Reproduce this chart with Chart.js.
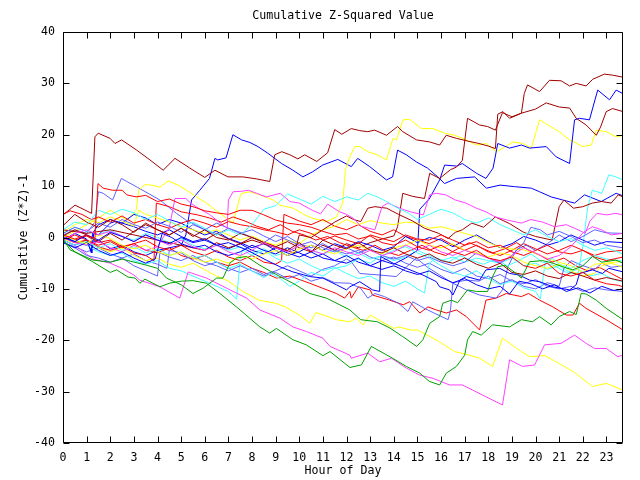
<!DOCTYPE html>
<html><head><meta charset="utf-8">
<script src="https://cdn.jsdelivr.net/npm/chart.js@4/dist/chart.umd.min.js"></script>
<style>html,body{margin:0;padding:0;background:#fff;}canvas{display:block;}</style>
</head><body>
<canvas id="c" width="640" height="480"></canvas>
<script>
// ---- labels / ticks ----
const chartTitle = 'Cumulative Z-Squared Value';
const xTitle = 'Hour of Day';
const yTitle = 'Cumulative (Z*Z)-1';
const xTicks = [0,1,2,3,4,5,6,7,8,9,10,11,12,13,14,15,16,17,18,19,20,21,22,23];
const yTicks = [-40,-30,-20,-10,0,10,20,30,40];

// ---- series: [hour, cumulative value] ----
const darkRed1 = [[0,4.4],[0.51,6.3],[1.21,4.7],[1.35,19.6],[1.49,20.3],[1.99,19.3],[2.2,18.3],[2.48,19.0],[3.12,17.0],[3.68,15.1],[4.24,13.1],[4.74,15.4],[5.37,13.5],[6.0,11.7],[6.43,13.1],[6.98,11.8],[7.61,11.8],[8.2,11.4],[8.75,10.9],[8.96,16.1],[9.26,16.7],[9.6,16.1],[9.94,15.3],[10.23,16.1],[10.74,14.8],[11.2,16.5],[11.5,21.0],[11.8,20.1],[12.2,21.2],[12.56,20.8],[12.9,20.6],[13.19,20.9],[13.69,19.9],[14.16,21.6],[14.38,20.6],[14.96,19.0],[15.52,18.6],[15.94,18.0],[16.22,19.9],[16.65,19.3],[17.1,18.8],[17.6,18.3],[18.0,17.8],[18.3,17.3],[18.4,24.0],[18.62,24.5],[18.9,23.2],[19.4,24.2],[19.52,28.0],[19.66,29.7],[20.17,28.4],[20.59,30.6],[21.08,30.5],[21.44,29.5],[21.72,30.0],[22.14,29.5],[22.42,30.8],[22.91,31.8],[23.26,31.6],[23.7,31.2]];
const darkRed2 = [[0,0.3],[0.5,1.5],[1,0.5],[1.5,-0.8],[2,0.8],[2.5,-0.5],[3,1.2],[3.5,2.5],[4,1.5],[4.5,0.5],[5,1.8],[5.5,0.5],[6,-0.5],[6.5,0.8],[7,-0.3],[7.5,-1.2],[8,0],[8.5,-0.8],[9,-1.8],[9.5,-0.8],[10,-2],[10.5,-2.8],[11,-1.5],[11.5,-2.5],[12,-1.2],[12.5,-2],[13,-1],[13.5,-0.3],[14.0,0.3],[14.16,2.1],[14.38,8.6],[14.8,8.0],[15.3,7.6],[15.52,12.5],[15.94,11.5],[16.4,13.2],[16.65,13.7],[16.9,15.0],[17.12,23.2],[17.63,21.9],[17.97,21.6],[18.3,20.9],[18.6,24.3],[19.0,23.5],[19.4,24.2],[20.0,25.0],[20.45,26.2],[21.0,25.4],[21.44,25.2],[21.72,23.2],[22.14,21.9],[22.57,19.9],[22.75,21.5],[22.99,24.5],[23.26,25.1],[23.7,24.5]];
const darkRed3 = [[0,1.5],[1,0.8],[2,1.5],[3,0.5],[4,-0.5],[5,-1.5],[6,-2.5],[6.5,-1],[7,-2],[8,-0.5],[9,-2],[9.8,-3],[10,0.5],[10.5,0],[11,1.5],[11.5,3],[12,4.2],[12.3,3.5],[12.6,3.1],[12.9,5.7],[13.2,6],[13.7,5.7],[14.2,4.5],[14.8,3.2],[15.3,1.8],[15.9,0.8],[16.3,-0.2],[16.6,1],[16.9,1.5],[17.3,2.8],[17.8,2],[18.3,4],[18.9,2.7],[19.5,1],[20.0,0.2],[20.7,-0.5],[21.0,6],[21.2,7.3],[21.6,5.7],[22.0,6],[22.4,6.7],[22.8,7],[23.2,6.7],[23.5,8.3],[23.7,7.9]];
const darkRed4 = [[0,2.3],[0.5,4.5],[1,3],[1.5,2],[2,3.5],[2.5,2.5],[3,1],[3.5,2.8],[4,1.5],[4.5,0.5],[5,1.8],[5.5,0.2],[6,1.5],[6.5,0],[7,-0.5],[7.5,0.8],[8,0],[8.5,-1],[9,-1.8],[9.5,-2.5],[10,-1],[10.5,-2.8],[11,-0.5],[11.5,-1.5],[12,-2.2],[12.5,-1],[13,-2.5],[13.5,-3],[14,-2],[14.5,-3.2],[15,-4],[15.5,-3.2],[16,-4.5],[16.5,-5],[17,-4],[17.5,-5.2],[18,-6],[18.5,-5],[19,-6.8],[19.5,-7.2],[20,-6.5],[20.5,-7.5],[21,-8],[21.5,-6.8],[22,-7.5],[22.5,-8.3],[23,-7.8],[23.7,-8.5]];

const red1 = [[0,0.5],[0.5,-0.3],[1,0.5],[1.35,-0.2],[1.48,10.5],[1.7,9.6],[2.1,9.2],[2.5,9.2],[2.7,8.3],[3.1,7.9],[3.5,8.2],[4,7],[4.5,7.5],[5,6.5],[5.5,6],[6,5.2],[6.5,4.8],[7,4.5],[7.5,5.3],[8,5.3],[8.5,4.4],[9,3.4],[9.5,2.8],[10,2.5],[10.5,2],[11,1.2],[11.5,0.5],[12,0.8],[12.5,-0.3],[13,0.3],[13.5,-1],[14,-1.5],[14.5,-0.5],[15,-1.8],[15.5,-2.5],[16,-1.5],[16.5,-2.8],[17,-3.5],[17.5,-2.5],[18,-4],[18.5,-4.5],[19,-3.8],[19.5,-5.5],[20,-6],[20.5,-5],[21,-7],[21.5,-7.5],[22,-6.8],[22.5,-8.3],[23,-9],[23.5,-9.3],[23.7,-9.6]];
const red2 = [[0,4.5],[0.3,5.2],[0.8,4.5],[1.2,3.5],[1.5,4],[2,3],[2.5,4.2],[3,2.8],[3.5,3.5],[4,2.5],[4.5,1.8],[5,2.8],[5.5,3.5],[6,2.8],[6.5,2],[7,3.1],[7.5,2.5],[8,2.1],[8.5,1.5],[9,1.1],[9.5,0.5],[10,1.5],[10.5,0.8],[11,-0.5],[11.5,0.3],[12,-0.5],[12.5,-1.2],[13,0.5],[13.5,-0.2],[14,-0.8],[14.5,0.5],[15,-0.3],[15.5,-0.5],[16,0.5],[16.5,-0.5],[17,-1.5],[17.5,-0.8],[18,-2],[18.5,-1.5],[19,-2.8],[19.5,-3.5],[20,-2.5],[20.5,-1.5],[21,-2.8],[21.5,-3.2],[22,-2.5],[22.5,-3.8],[23,-4.5],[23.7,-3.8]];
const red3 = [[0,0],[0.5,-1],[1,-0.5],[1.5,-1.8],[2,-2.5],[2.5,-1.8],[3,-3],[3.5,-3.5],[3.85,-4.5],[3.95,6.7],[4.5,6],[5.0,5],[5.7,4.4],[6.2,3.8],[6.7,3],[7.2,4],[7.7,3.2],[8.2,2.2],[8.7,1.5],[9.2,2.5],[9.7,1.2],[10.2,0.5],[10.7,-0.5],[11.2,0.2],[11.7,-1],[12.2,-1.8],[12.7,-2.5],[13.2,-1.5],[13.7,-2.8],[14.2,-3.5],[14.7,-2.5],[15.2,-1.5],[15.7,-2.8],[16.2,-3.5],[16.7,-2.2],[17.2,-1],[17.7,-2],[18.2,-3],[18.7,-2.2],[19.2,-1],[19.7,-2.5],[20.2,-3.5],[20.7,-4.8],[21.2,-4],[21.7,-5.5],[22.2,-6.5],[22.7,-5.8],[23.2,-7],[23.7,-8.2]];
const red4 = [[0,-0.5],[0.5,0.5],[1,-0.5],[1.5,-1.5],[2,-0.8],[2.5,-2],[3,-1.2],[3.5,-0.5],[4,-1.8],[4.5,-2.5],[5,-1.5],[5.5,-2.8],[6,-3.5],[6.5,-2.5],[7,-3.8],[7.5,-4.5],[8,-3.5],[8.5,-4.8],[9,-5.2],[9.25,-4.5],[9.35,4.5],[9.6,4],[10,3.2],[10.5,2.5],[11,3.5],[11.5,2.2],[12,1.5],[12.5,2.5],[13,1.2],[13.5,0.5],[14,1.5],[14.5,0.2],[15,-0.5],[15.5,-1.2],[16,-0.2],[16.5,-1.5],[17,-2.5],[17.5,-1.5],[18,-2.8],[18.5,-3.5],[19,-2.5],[19.5,-1.2],[20,-2.2],[20.5,-3.2],[21,-2.5],[21.5,-1.5],[22,-2.5],[22.5,-3.5],[23,-2.8],[23.7,-2.5]];
const redLow = [[0,0.5],[0.5,-0.5],[1,0.3],[1.5,-1],[2,-0.5],[2.5,-1.8],[3,-1.2],[3.5,-2.5],[4,-3],[4.5,-2],[5,-3.5],[5.5,-4.2],[6,-3.5],[6.5,-4.8],[7,-5.5],[7.5,-4.8],[8,-6],[8.5,-6.8],[9.03,-7.9],[9.6,-7.5],[10.44,-8.9],[11.0,-9.9],[11.57,-10.9],[11.92,-11.8],[12.14,-10.5],[12.2,-11.8],[12.5,-9.6],[13.0,-10.2],[13.1,-11.2],[13.83,-12.2],[14.4,-13.1],[14.67,-12.5],[15.1,-14.7],[15.45,-13.5],[15.8,-14.1],[16.22,-14.7],[16.65,-14.1],[17.07,-15.4],[17.63,-18],[17.9,-12.2],[18.33,-11.8],[18.76,-10.9],[19.4,-11.5],[19.7,-10.9],[20.17,-12.2],[20.73,-13.5],[21.3,-15.1],[21.58,-15.1],[21.86,-12.8],[22.14,-13.8],[22.99,-16],[23.7,-18]];

const greenLow = [[0,-0.5],[0.5,-2.8],[1.25,-4.7],[2.0,-6.8],[2.27,-6.3],[2.75,-7.7],[3.05,-7.9],[3.25,-8.9],[3.47,-8.1],[4.1,-9.6],[4.5,-8.9],[5.0,-8.5],[5.5,-8.4],[6.07,-8.9],[6.64,-10.9],[7.34,-13.5],[8.33,-17.4],[8.75,-18.6],[9.03,-17.7],[9.73,-19.9],[10.3,-20.9],[11.0,-23],[11.3,-22.2],[12.14,-25.3],[12.63,-24.8],[13.05,-21.2],[13.95,-23.5],[14.53,-25.1],[15.1,-26.4],[15.5,-28],[15.94,-28.7],[16.22,-26.4],[16.65,-25.1],[17.0,-22.9],[17.12,-19.9],[17.34,-18.3],[17.7,-19],[18.18,-17],[18.9,-17.4],[19.4,-16],[19.87,-16.4],[20.17,-15.4],[20.66,-17],[21.0,-15.4],[21.44,-14.4],[21.72,-15],[21.93,-10.9],[22.14,-11],[22.57,-12.2],[22.99,-13.8],[23.7,-16]];
const greenMid = [[0,-0.3],[0.3,-2.4],[1.27,-4.4],[2,-4.8],[2.5,-4.2],[3.54,-5.4],[4.0,-6],[4.38,-7.9],[5.0,-9.2],[5.5,-10.9],[5.92,-9.9],[6.5,-7.9],[6.77,-7.9],[7.06,-5],[7.34,-4],[7.77,-3.7],[8.33,-5.4],[9.18,-7.6],[9.73,-8.9],[10.44,-10.9],[11.15,-11.8],[12.14,-14.1],[12.6,-16],[13.3,-16.4],[13.83,-17.6],[14.38,-19.3],[14.97,-21.2],[15.23,-19.9],[15.52,-16.7],[15.94,-15.4],[16.07,-12.8],[16.44,-12.2],[16.7,-12.7],[17.12,-10.2],[17.5,-10.5],[17.97,-10.5],[18.18,-7.6],[18.39,-5.7],[18.7,-5.4],[19.18,-7],[19.4,-7.9],[19.75,-4.7],[20.3,-4.5],[20.73,-5],[21.15,-5.7],[21.57,-6.3],[22.0,-5.5],[22.41,-3.7],[22.8,-4.8],[23.4,-4.4],[23.7,-5]];

const blue1 = [[0,0.3],[0.5,-0.8],[1,-1.5],[1.5,-0.5],[2,-2.2],[2.5,-1.5],[3,-2.8],[3.5,-3.5],[4,-2.5],[4.5,-2],[5,-1.5],[5.2,0.5],[5.44,7.3],[5.79,9.2],[6.2,11.5],[6.43,15.4],[6.55,15.1],[6.9,15.5],[7.19,20],[7.56,19],[7.91,18.5],[8.25,17.7],[8.67,16.4],[9.25,14.4],[9.73,13.1],[10.15,11.8],[10.57,12.8],[10.99,14.1],[11.63,15.2],[12.2,13.8],[12.47,15.4],[12.98,13.8],[13.69,11.2],[13.95,11.8],[14.16,17],[14.53,16.1],[14.96,14.7],[15.43,13.5],[15.86,11.8],[16.15,10.5],[16.65,11.5],[17.42,11.8],[17.92,9.6],[18.5,10.2],[19.1,9.9],[19.82,9.6],[20.17,8.9],[20.66,7.9],[21.15,7.3],[21.65,6.7],[22.07,8.3],[22.78,7.0],[23.41,8.6],[23.7,8.1]];
const blue2 = [[0,-0.5],[0.5,-1.5],[1,-0.5],[1.23,-3],[1.3,0.8],[1.5,0.5],[2,2.8],[2.2,3.1],[2.5,2.8],[3,2.1],[3.5,1.2],[4,0.5],[4.5,1.5],[5,0.2],[5.5,-0.8],[6,-0.2],[6.5,-1.5],[7,-2.2],[7.5,-1.2],[8,-2.5],[8.5,-3.2],[9,-2],[9.5,-3],[10,-3.8],[10.5,-2.8],[11,-4],[11.5,-4.5],[12,-3.5],[12.5,-4.8],[13,-5.5],[13.5,-4.5],[14,-5.2],[14.5,-4],[15.0,-2.5],[15.1,5.5],[15.5,7.5],[15.94,11.2],[16.15,14.1],[16.66,13.9],[16.9,14.4],[17.5,12.5],[17.9,11.5],[18.2,13.5],[18.4,18.3],[18.9,17.4],[19.4,18],[19.75,17.4],[20.45,17.7],[20.87,15.7],[21.44,14.4],[21.65,22.9],[21.86,23.2],[22.28,22.9],[22.63,28.7],[23.13,26.8],[23.41,28.7],[23.7,28]];
const blue3 = [[0,0],[0.5,-0.8],[1,0.5],[1.5,-0.5],[2,1],[2.5,0.2],[3,-0.8],[3.5,0.5],[4,-0.5],[4.5,-1.2],[5,0],[5.5,-1],[6,-0.5],[6.5,-1.5],[7,-1],[7.77,-2.4],[8.6,-4.4],[9.18,-5.7],[9.73,-6.7],[10.44,-7.6],[11.0,-7.9],[11.57,-9.2],[12.0,-10.2],[12.14,-9.6],[12.56,-8.6],[13.1,-10.2],[13.4,-10.5],[13.45,-3.7],[13.97,-5],[14.53,-6],[15.23,-7.3],[15.8,-8.6],[15.94,-9.6],[16.36,-10.2],[16.5,-11.2],[16.8,-8.3],[17.07,-7.6],[17.63,-8.3],[17.9,-6.3],[18.48,-6],[18.9,-7],[19.3,-7.3],[19.75,-8.3],[20.17,-8.6],[20.73,-9.6],[21.44,-10.2],[21.72,-9.2],[21.86,-7],[22.41,-6.3],[22.83,-7],[23.1,-6],[23.7,-6.7]];
const blue4 = [[0,-1],[0.5,-2],[1,-1],[1.5,-2.5],[2,-3.5],[2.5,-2.8],[3,-4],[3.5,-5],[3.9,-4.2],[4.2,0.8],[4.6,0],[5,-1.2],[5.5,-2],[6,-1.5],[6.5,-2.8],[7,-3.5],[7.5,-2.8],[8,-1.5],[8.5,-2.5],[9,-3.2],[9.5,-2],[10,-3],[10.5,-4],[11,-3.2],[11.5,-4.5],[12,-5],[12.5,-4],[13,-5.5],[13.5,-6.2],[14,-5.5],[14.5,-6.5],[15,-7.2],[15.5,-6.5],[16,-7.8],[16.5,-8.8],[17,-8],[17.5,-9.2],[18,-10],[18.5,-9.5],[18.9,-11],[19.3,-8.5],[19.8,-9],[20.3,-10],[20.8,-9.2],[21.3,-10.5],[21.8,-9.8],[22.3,-10.8],[22.8,-9.5],[23.3,-10.3],[23.7,-10]];
const blue5 = [[0,-0.5],[0.5,0.8],[1,-0.3],[1.2,-3],[1.25,0.8],[1.5,2.5],[2,3.5],[2.5,2.8],[3,4.5],[3.5,3.8],[4,2.5],[4.5,3.5],[5,2.8],[5.5,1.5],[6,0.5],[6.5,1.2],[7,-0.2],[7.5,-1],[8,-2],[8.5,-1.2],[9,-2.5],[9.5,-3.5],[10,-2.8],[10.5,-1.5],[11,-2.5],[11.5,-1.2],[12,-2],[12.5,-0.8],[13,-1.5],[13.5,-2.5],[14,-1.8],[14.5,0.2],[15,-1],[15.5,0],[16,-0.5],[16.5,-1.8],[17,-0.5],[17.5,0.5],[18,-0.8],[18.5,-2],[19,-1.2],[19.5,0.2],[20,-0.5],[20.5,-1.5],[21,-0.8],[21.5,0.5],[22,-0.5],[22.5,-1.5],[23,-0.8],[23.7,-1]];

const magentaLow = [[0,-0.5],[0.5,-1.5],[1.27,-4.2],[2,-5],[2.5,-6],[3.0,-7.3],[3.25,-8.3],[4.1,-9.6],[4.94,-11.8],[5.3,-6.7],[6.07,-7.9],[7.2,-10.5],[7.77,-11.8],[8.33,-14.1],[9.18,-15.7],[9.73,-17.4],[10.3,-18.3],[11.0,-19.6],[11.3,-21.2],[12.14,-22.9],[12.2,-23.5],[12.9,-22.5],[13.4,-24.2],[13.9,-23.5],[14.53,-25.4],[15.1,-26.8],[15.65,-27.4],[16.36,-28.7],[16.9,-28.7],[17.34,-29.7],[17.9,-31],[18.6,-32.6],[18.9,-23.8],[19.45,-25.1],[19.96,-24.8],[20.38,-20.9],[21.08,-20.6],[21.65,-19],[22.14,-20.6],[22.5,-21.6],[22.99,-21.6],[23.48,-23.2],[23.7,-22.9]];
const magenta2 = [[0,0],[0.5,-1],[1,-1.5],[1.5,-0.8],[2,-2],[2.5,-2.8],[3,-1.5],[3.5,-2.5],[4,-1.8],[4.5,2],[4.74,7.6],[5.2,7.6],[5.4,6.7],[5.8,5.5],[6.2,4.5],[6.6,3],[6.95,1.8],[7.0,7.3],[7.2,8.9],[7.55,9],[7.85,9.2],[8.2,8.6],[8.6,7.9],[9.2,8.6],[9.6,7],[10.0,6.7],[10.55,5.3],[10.9,4.6],[11.2,6.5],[11.7,5],[12.0,4.5],[12.3,3.7],[12.6,2.2],[13.2,1.5],[13.5,6],[13.75,6.7],[14.25,5.7],[14.7,5],[15.25,4.4],[15.52,8.3],[15.8,8.6],[16.2,8.3],[16.6,7.3],[17.05,6.7],[17.5,5.7],[17.9,5],[18.3,4],[18.8,3.4],[19.4,2.8],[19.8,3.5],[20.3,3.0],[20.8,2.1],[21.3,2.5],[21.8,1.5],[22.1,0.8],[22.3,3.2],[22.6,4.7],[23.0,4.4],[23.4,4.7],[23.7,4.4]];
const magenta3 = [[0,-0.5],[0.5,0.8],[1,1.5],[1.5,0.5],[2,1.2],[2.5,0.3],[3,-0.8],[3.5,0.5],[4,-0.5],[4.5,-1.5],[5,-0.5],[5.5,-1.8],[6,-2.5],[6.5,-1.5],[7,-2.8],[7.5,-3.5],[8,-2.5],[8.5,-1],[9,-2],[9.5,-2.8],[10,-1.5],[10.5,-2.5],[11,-3.2],[11.5,-2],[12,-2.8],[12.5,-3.5],[13,-2.5],[13.5,-3.5],[14,-2.8],[14.5,-1.5],[15,-2.5],[15.5,-1.5],[16,-2.8],[16.5,-3.5],[17,-2.5],[17.5,-3.2],[18,-4],[18.5,-4.8],[19,-3.5],[19.5,-2],[20,-3],[20.5,-4.2],[21,-3.5],[21.5,-1.8],[22,0.9],[22.4,2.1],[22.8,1.5],[23.2,0.5],[23.7,0.8]];

const cyan1 = [[0,0.8],[0.5,2],[1,1.2],[1.5,0.5],[2,1.5],[2.5,0.2],[3,-0.5],[3.5,0.8],[4,0],[4.5,-1],[5,-0.2],[5.5,-1.5],[6,-2.2],[6.5,-1.5],[7,-2.5],[7.5,-1.8],[8,-3],[8.5,-2.2],[9,-3.5],[9.5,-2.8],[10,-1.5],[10.5,-2.5],[11,-3.2],[11.5,-2.5],[12,-3.8],[12.5,-3],[13,-4.2],[13.5,-3.5],[14,-4.5],[14.5,-3.8],[15,-2.5],[15.5,-3.5],[16,-4.5],[16.5,-3.8],[17,-4.8],[17.5,-4],[18,-4.5],[18.5,-5],[19,-4],[19.5,-5.5],[20,-5],[20.5,-6.2],[21,-5.5],[21.5,-7],[21.8,-6.9],[22.0,-1.8],[22.2,5.7],[22.4,9.2],[22.6,8.9],[22.8,8.6],[23.1,12.2],[23.4,11.8],[23.7,11.2]];
const cyan2 = [[0,0.5],[0.5,-0.5],[1,-1.5],[1.5,-2.8],[2,-3.5],[2.5,-3],[3,-4.5],[3.5,-5.2],[4,-4.5],[4.5,-6],[5,-6.5],[5.5,-7.5],[6,-8.5],[6.5,-9.5],[7,-10.5],[7.35,-12],[7.5,-4],[7.6,-2.4],[8,-3.5],[8.5,-2.5],[9,-4],[9.5,-5],[10,-4.2],[10.5,-5.5],[11,-6.5],[11.5,-5.8],[12,-7],[12.5,-8],[13,-7.5],[13.5,-8.8],[14,-9.5],[14.5,-8.5],[15,-10],[15.3,-10.8],[15.5,-5],[15.8,-4],[16.3,-4.8],[16.8,-3.5],[17.3,-4.5],[17.8,-5.2],[18.3,-4.2],[18.8,-5.5],[19.3,-4.5],[19.8,-3.2],[20.3,-4.8],[20.8,-5.5],[21.3,-6.8],[21.8,-6.2],[22.3,-7.5],[22.8,-7],[23.3,-8.2],[23.7,-8.6]];
const cyan3 = [[0,1.5],[0.5,3],[1,2.5],[1.5,5.3],[2,4.5],[2.5,5.5],[3,4.8],[3.5,3.5],[4,4.5],[4.5,3.2],[5,2],[5.5,3],[6,1.8],[6.5,0.5],[7,1.5],[7.5,0.5],[8,2.5],[8.5,5.5],[9,6.2],[9.5,8.5],[10,7.5],[10.5,6.5],[11,8],[11.5,7],[12,7.9],[12.5,7.3],[12.9,8.6],[13.3,7.9],[13.7,7],[14.16,5.7],[14.6,4.8],[15,3.5],[15.5,4.5],[16,5.5],[16.5,4.8],[17,3.5],[17.5,2.8],[18,3.8],[18.5,2.5],[19,1.5],[19.5,0.5],[20,1.5],[20.5,0.2],[21,-0.8],[21.5,-0.2],[22,-1.5],[22.5,-2.5],[23,-2],[23.7,-3.2]];
const cyan4 = [[0,-0.5],[0.5,-1.5],[1,-0.8],[1.5,-2],[2,-1.2],[2.5,-2.5],[3,-1.8],[3.5,-3],[4,-2.2],[4.5,-3.5],[5,-2.8],[5.5,-4],[6,-3.5],[6.5,-4.8],[7,-6],[7.5,-5.2],[8,-6.5],[8.5,-7.8],[8.8,-7],[9.2,-8],[9.6,-9.5],[10,-8.5],[10.5,-6.8],[11,-7.5],[11.5,-6],[12,-5.5],[12.5,-4.2],[13,-5],[13.5,-3.5],[14,-2.5],[14.5,-1.8],[15,-3],[15.5,-4],[16,-5.5],[16.5,-6.8],[17,-7.5],[17.5,-6.5],[18,-8],[18.5,-9.2],[19,-8.5],[19.5,-9.8],[20,-10.5],[20.2,-12],[20.4,-5],[20.7,-4],[21,-5.2],[21.5,-6],[22,-4.5],[22.5,-3.5],[23,-4.2],[23.7,-4.6]];

const yellowTop = [[0,0],[0.5,1.2],[1,2.5],[1.5,3.8],[2,5.3],[2.7,3.4],[3.1,5.3],[3.2,9.2],[3.47,10.3],[3.75,10.2],[4.1,9.8],[4.45,11],[4.87,10.2],[5.23,9.2],[5.65,7.9],[6.07,6.7],[6.64,4.7],[7.2,2.8],[7.49,7.9],[7.56,8.6],[7.91,8.9],[8.33,8.3],[8.9,7.3],[9.18,6.3],[9.74,5.7],[10.23,4.4],[10.58,3.7],[11.15,3.1],[11.57,4],[11.84,6.7],[11.95,13.1],[12.14,15.7],[12.35,17.7],[12.56,17.7],[12.9,16.7],[13.3,16.1],[13.69,15.1],[13.97,19.3],[14.11,19],[14.39,22.9],[14.67,23],[15.17,21.2],[15.66,21.2],[16.15,20.3],[16.58,19.9],[17.07,19],[17.5,18],[17.92,18.3],[18.34,16.7],[18.62,17.4],[19.04,18.6],[19.46,18.3],[19.82,17.4],[20.17,22.9],[20.52,21.9],[21.0,20.6],[21.44,19],[22.0,17.7],[22.36,18],[22.57,20.9],[22.99,20.6],[23.41,19.6],[23.7,19.9]];
const yellowLow = [[0,-0.3],[0.5,-1],[1,-0.8],[1.5,-2],[2,-2.8],[2.5,-2],[3,-3.5],[3.5,-4.5],[4,-4],[4.5,-5.2],[5,-5.8],[5.5,-5],[6,-6.3],[6.5,-7.5],[7,-8.5],[7.61,-10.5],[8.3,-12.2],[9.0,-12.8],[9.4,-13.5],[10.0,-15.1],[10.45,-16.7],[10.7,-14.6],[11.15,-15.3],[11.57,-16],[12.14,-16.4],[12.4,-15.7],[12.7,-17],[13.0,-15.1],[14.0,-17.7],[14.2,-17.4],[14.7,-18],[15.0,-18],[15.94,-20.3],[16.57,-22.2],[17.2,-22.9],[17.63,-23.5],[18.18,-25.1],[18.6,-19.6],[19.4,-22.2],[19.75,-23.2],[20.4,-23],[21.6,-26.1],[22.41,-29],[23.0,-28.4],[23.7,-29.7]];
const yellow3 = [[0,0.5],[0.5,-0.5],[1,-1.2],[1.5,0.5],[2,-0.2],[2.5,-1.5],[3,-2.2],[3.5,-1.5],[4,-2.8],[4.5,-3.5],[5,-2.8],[5.5,-4],[6,-4.8],[6.5,-4.2],[7,-5],[7.5,-3.5],[8,-4.2],[8.5,-3.2],[9,-2.5],[9.5,-3.5],[10,-2.2],[10.5,-1.5],[11,-2.5],[11.5,-3.2],[12,-2.2],[12.5,-1.5],[13,-2.5],[13.5,-3.2],[14,-2],[14.5,-1.5],[15,-0.5],[15.5,-1.5],[16,-2],[16.5,-1.2],[17,-2.5],[17.5,-3],[18,-3.8],[18.5,-3],[19,-3.5],[19.5,-4.8],[20,-5.5],[20.5,-6],[21,-5.2],[21.5,-6.5],[22,-7.5],[22.5,-7],[22.8,-5.5],[23.2,-5],[23.7,-5.8]];
const yellow4 = [[0,1],[0.5,2.5],[1,3.5],[1.5,2.8],[2,4],[2.5,3.2],[3,2.2],[3.2,5.3],[3.5,4.5],[4,3.8],[4.5,3],[5,2.2],[5.5,1.5],[6,0.8],[6.5,1.5],[7,0.5],[7.5,-0.5],[8,0.3],[8.5,-0.8],[9,-1.5],[9.5,-0.5],[10,-1.2],[10.5,0.5],[11,1.5],[11.5,2.2],[12,3.5],[12.5,2.5],[13,3.3],[13.5,2.8],[14,2.5],[14.5,3],[15,2.8],[15.5,1.8],[16,2.1],[16.5,1.5],[17,0.8],[17.5,0.2],[18,-1],[18.6,-2.1],[19.5,-2.4],[20,-3.1],[20.7,-4.4],[21.5,-5.5],[22,-6.8],[22.5,-5.2],[23,-5],[23.7,-4.6]];

const lightBlue1 = [[0,0.5],[0.5,1.5],[1,0.8],[1.35,3],[1.45,7],[1.5,8.9],[1.7,8.6],[2.1,7.3],[2.47,11.5],[2.7,10.9],[3.1,9.9],[3.6,8.6],[4.1,7.3],[4.45,6],[4.8,4.7],[5.2,3.4],[5.6,2.5],[6,1.5],[6.5,2.8],[7,1.8],[7.5,0.8],[8,1.5],[8.5,0.3],[9,-0.8],[9.5,0.2],[10,-1.2],[10.5,-2],[11,-1.2],[11.5,-2.5],[12,-3.2],[12.5,-2.5],[13,-3.8],[13.5,-4.5],[14,-3.8],[14.5,-5],[15,-5.8],[15.5,-5],[16,-6.2],[16.5,-7],[17,-6],[17.5,-7.5],[18,-8],[18.5,-7.2],[19,-8.5],[19.5,-9],[20,-8.2],[20.5,-9.5],[21,-10],[21.5,-9.5],[22,-10.5],[22.5,-9.8],[23,-10.2],[23.7,-10.5]];
const lightBlue2 = [[0,-1],[0.5,-1.8],[1,-2.8],[1.5,-2],[2,-3.2],[2.5,-4],[3,-3.2],[3.5,-4.5],[4,-5.2],[4.4,-6],[4.5,-2.5],[5,-3],[5.5,-4.5],[6,-5.5],[6.5,-4.8],[7,-6],[7.5,-6.8],[8,-6],[8.5,-7.2],[9,-6.5],[9.5,-5.5],[10,-6.5],[10.5,-7.5],[11,-6.2],[11.5,-5.5],[12,-4.2],[12.2,-4.7],[12.56,-7],[13.4,-7.3],[14.1,-7.6],[14.95,-4],[15.4,-5.7],[15.94,-7.3],[16.5,-8.9],[17.07,-10.2],[17.63,-11.2],[18.33,-11.8],[18.6,-10.2],[18.83,-5.7],[19.18,-2.4],[19.6,-1.5],[20,-2.5],[20.5,-1.2],[21,0.5],[21.5,-0.8],[22,0.2],[22.5,1.5],[23,0.9],[23.7,0.8]];
const lightBlue3 = [[0,-0.8],[0.5,-2],[1,-3.5],[1.5,-4],[2,-4.8],[2.5,-4],[3,-5.5],[3.5,-6.5],[4,-7.5],[4.1,-3],[4.5,-3.8],[5,-4.5],[5.5,-3.5],[6,-4.8],[6.5,-5.5],[7,-6.5],[7.5,-5.5],[8,-6.5],[8.5,-7.5],[9,-6.8],[9.5,-8],[10,-7.2],[10.5,-8.5],[11,-7.8],[11.5,-8.8],[12.14,-8.9],[12.6,-9.9],[12.9,-11.8],[13.2,-10.9],[13.6,-11.5],[14.2,-12.8],[14.6,-14.4],[14.8,-12.5],[15.3,-13.8],[15.7,-14.7],[16.3,-16],[16.4,-14.1],[16.5,-8.9],[16.7,-8.6],[17.1,-8.3],[17.6,-8.5],[18,-7.5],[18.5,-9],[19,-8.2],[19.5,-9.5],[20,-10],[20.5,-8.8],[21,-9.5],[21.2,-6],[21.5,-4.5],[22,-5.5],[22.5,-6.2],[22.8,-5],[23.2,-5.8],[23.7,-5.5]];
const lightBlue4 = [[0,0.8],[0.5,2],[1,1.2],[1.5,2.8],[2,2],[2.5,3.5],[3,2.5],[3.5,1.8],[4,3],[4.5,2.2],[5,1],[5.5,2.5],[6,1.5],[6.5,0.5],[7,1.8],[7.5,1],[8,0],[8.5,-1],[9,0.5],[9.5,-0.5],[10,-1.5],[10.5,-0.8],[11,-2],[11.5,-2.8],[12,-2],[12.5,-3],[13,-2.2],[13.5,-3.5],[14,-4.2],[14.5,-3.5],[15,-4.5],[15.5,-3.8],[16,-4.8],[16.5,-5.5],[17,-4.8],[17.5,-3],[18,-4],[18.5,-5],[19,-3.5],[19.5,-1],[19.8,2],[20.2,1.5],[20.5,0.5],[21,1.2],[21.5,0.2],[22,-1],[22.5,-0.5],[23,-1.5],[23.7,-2]];

// ---- colours ----
const C = {red:'#ff0000', green:'#00a000', blue:'#0000ff', magenta:'#ff40ff', cyan:'#40ffff', darkred:'#a00000', yellow:'#ffff00', lightblue:'#6060ff'};

const seriesList = [
  [red1,C.red],[greenMid,C.green],[blue3,C.blue],[magenta3,C.magenta],[cyan3,C.cyan],[darkRed4,C.darkred],[yellow3,C.yellow],[lightBlue4,C.lightblue],
  [red2,C.red],[greenLow,C.green],[blue4,C.blue],[magenta2,C.magenta],[cyan4,C.cyan],[darkRed3,C.darkred],[yellow4,C.yellow],[lightBlue3,C.lightblue],
  [red3,C.red],[blue5,C.blue],[magentaLow,C.magenta],[cyan2,C.cyan],[darkRed2,C.darkred],[yellowLow,C.yellow],[lightBlue2,C.lightblue],
  [red4,C.red],[blue2,C.blue],[cyan1,C.cyan],[darkRed1,C.darkred],[yellowTop,C.yellow],[lightBlue1,C.lightblue],
  [redLow,C.red],[blue1,C.blue]
];

const FONT = '"DejaVu Sans Mono", monospace';

const frame = {
  id:'frame',
  afterDraw(chart){
    const ctx = chart.ctx, a = chart.chartArea, xs = chart.scales.x, ys = chart.scales.y;
    const L = Math.round(a.left)+0.5, R = Math.round(a.right)-0.5, T = Math.round(a.top)+0.5, B = Math.round(a.bottom)-0.5;
    ctx.save();
    ctx.strokeStyle = '#000'; ctx.lineWidth = 1;
    ctx.beginPath();
    ctx.rect(L, T, R-L, B-T);
    const tl = 6;
    xTicks.forEach(v=>{ const p = Math.round(xs.getPixelForValue(v))+0.5; ctx.moveTo(p,B); ctx.lineTo(p,B-tl); ctx.moveTo(p,T); ctx.lineTo(p,T+tl); });
    yTicks.forEach(v=>{ const p = Math.round(ys.getPixelForValue(v))+0.5; ctx.moveTo(L,p); ctx.lineTo(L+tl,p); ctx.moveTo(R,p); ctx.lineTo(R-tl,p); });
    ctx.stroke();
    ctx.fillStyle = '#000';
    ctx.font = '11.6px ' + FONT;
    ctx.textAlign = 'center'; ctx.textBaseline = 'middle';
    const cx = (a.left + a.right)/2;
    ctx.fillText(chartTitle, cx, 16);
    ctx.fillText(xTitle, cx, 471);
    ctx.translate(24, (a.top + a.bottom)/2);
    ctx.rotate(-Math.PI/2);
    ctx.fillText(yTitle, 0, 0);
    ctx.restore();
  }
};

new Chart(document.getElementById('c'), {
  type:'line',
  data:{ datasets: seriesList.map(([pts,col],i)=>({
    label:'s'+i,
    data: pts.map(([x,y])=>({x,y})),
    borderColor: col, backgroundColor: col, borderWidth:1,
    pointRadius:0, tension:0, fill:false
  }))},
  options:{
    responsive:false, animation:false, devicePixelRatio:1,
    layout:{ padding:{ top:32, right:17, left:0, bottom:0 } },
    plugins:{ legend:{display:false}, tooltip:{enabled:false}, title:{display:false} },
    scales:{
      x:{ type:'linear', min:0, max:23.7,
        afterBuildTicks(s){ s.ticks = xTicks.map(v=>({value:v})); },
        afterFit(s){ s.height = 37; },
        grid:{ display:false, drawTicks:false }, border:{ display:false },
        ticks:{ autoSkip:false, maxRotation:0, padding:8, color:'#000', font:{ family:FONT, size:11.6 } }
      },
      y:{ type:'linear', min:-40, max:40,
        afterBuildTicks(s){ s.ticks = yTicks.map(v=>({value:v})); },
        afterFit(s){ s.width = 63; },
        grid:{ display:false, drawTicks:false }, border:{ display:false },
        ticks:{ padding:8, color:'#000', font:{ family:FONT, size:11.6 } }
      }
    }
  },
  plugins:[frame]
});
</script>
</body></html>
